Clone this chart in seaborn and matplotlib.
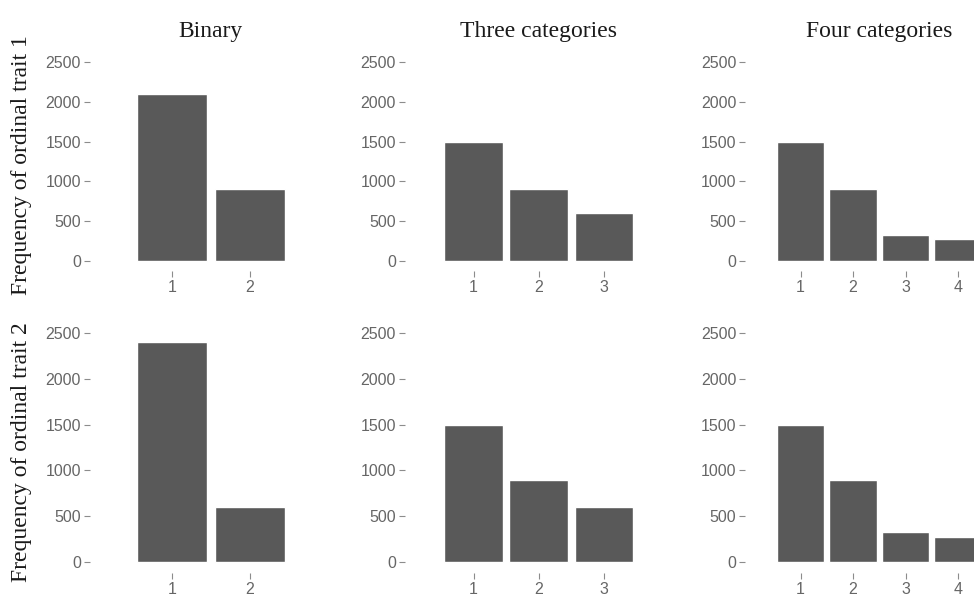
import matplotlib
matplotlib.use('Agg')
import matplotlib.pyplot as plt
import seaborn as sns

# category labels per panel column
categories_binary = ['1', '2']
categories_three = ['1', '2', '3']
categories_four = ['1', '2', '3', '4']

# counts for ordinal trait 1 (top row) and trait 2 (bottom row)
trait1_binary = [2100, 900]
trait1_three = [1500, 900, 600]
trait1_four = [1500, 900, 330, 270]
trait2_binary = [2400, 600]
trait2_three = [1500, 900, 600]
trait2_four = [1500, 900, 330, 270]

column_titles = ['Binary', 'Three categories', 'Four categories']
row_labels = ['Frequency of ordinal trait 1', 'Frequency of ordinal trait 2']
y_ticks = [0, 500, 1000, 1500, 2000, 2500]

sns.set_theme(style='white')
plt.rcParams['font.family'] = ['Liberation Sans', 'DejaVu Sans']

W, H = 974, 598
fig = plt.figure(figsize=(W / 100, H / 100), dpi=100)


def px_axes(left, top, right, bottom):
    return fig.add_axes([left / W, 1 - bottom / H, (right - left) / W, (bottom - top) / H])


# panel pixel boxes (left, right) per column and (top, bottom) per row
col_px = [(90, 331.8), (405, 672.5), (745.4, 1013.2)]
row_px = [(60.4, 270.5), (331.2, 573)]

cats = [categories_binary, categories_three, categories_four]
data = [[trait1_binary, trait1_three, trait1_four],
        [trait2_binary, trait2_three, trait2_four]]

for r in range(2):
    top, bottom = row_px[r]
    for c in range(3):
        left, right = col_px[c]
        ax = px_axes(left, top, right, bottom)
        sns.barplot(x=cats[c], y=data[r][c], color='#595959', saturation=1,
                    width=0.9, errorbar=None, ax=ax)
        n = len(cats[c])
        ax.set_xlim(-1.05, n + 0.05)
        ax.set_ylim(-120, 2520)
        ax.set_yticks(y_ticks)
        ax.set_xlabel('')
        ax.set_ylabel('')
        ax.grid(False)
        for s in ax.spines.values():
            s.set_visible(False)
        ax.tick_params(axis='both', bottom=True, left=True, length=4, width=0.8,
                       color='#8c8c8c', labelcolor='#666666', labelsize=11.5, pad=2.5)
        if r == 0:
            ax.set_title(column_titles[c], fontfamily='Liberation Serif',
                         fontsize=17, pad=17, color='#1a1a1a')
    fig.text(22 / W, 1 - (top + bottom) / 2 / H, row_labels[r], rotation=90,
             ha='center', va='center', fontfamily='Liberation Serif',
             fontsize=17, color='#1a1a1a')

fig.savefig('out.png', dpi=100)
